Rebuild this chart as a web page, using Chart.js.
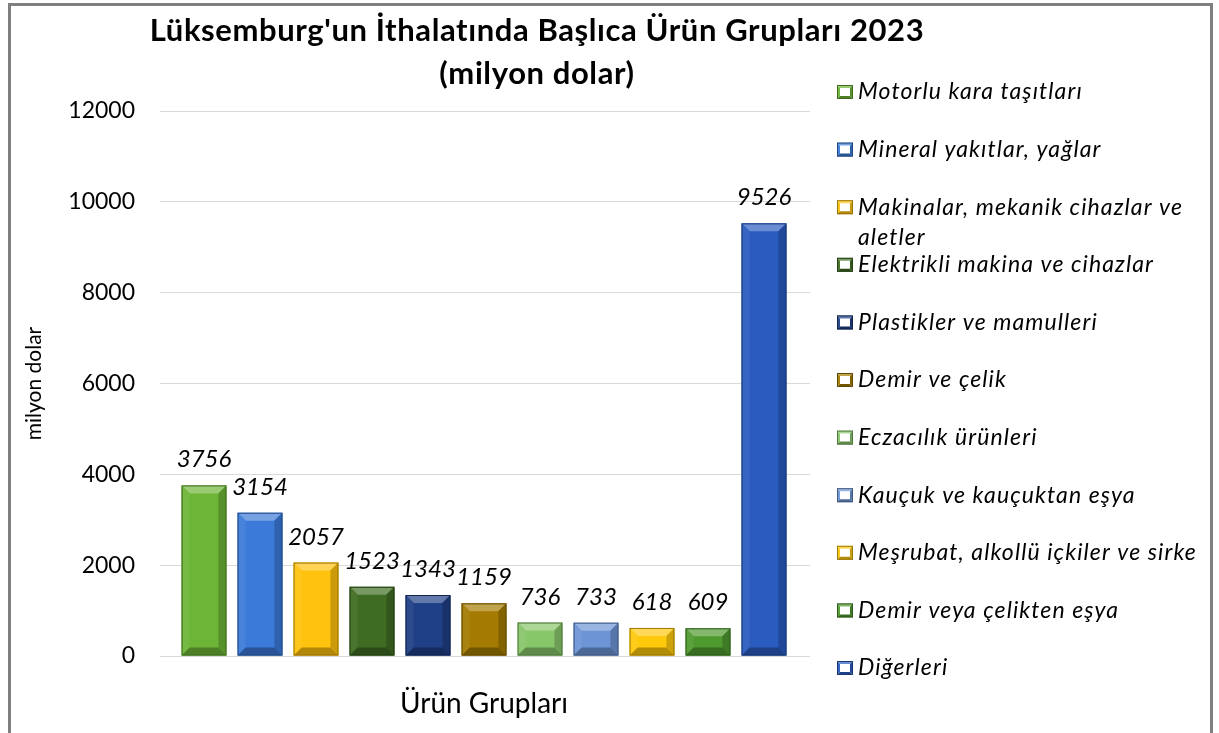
<!DOCTYPE html>
<html>
<head>
<meta charset="utf-8">
<script src="https://cdn.jsdelivr.net/npm/chart.js@4.4.1/dist/chart.umd.min.js"></script>
<style>
    body { margin: 0; background: #ffffff; }
    #frame {
        position: absolute; left: 8px; top: 3px; width: 1205px; height: 760px;
        border: 3px solid #7f7f7f; box-sizing: border-box;
    }
    #barChart { position: absolute; left: 0; top: 0; width: 1219px; height: 733px; }
</style>
</head>
<body>
<div id="frame"></div>
<canvas id="barChart" width="1219" height="733"></canvas>
<script>
// chart data
const categories = [
    'Motorlu kara taşıtları',
    'Mineral yakıtlar, yağlar',
    'Makinalar, mekanik cihazlar ve aletler',
    'Elektrikli makina ve cihazlar',
    'Plastikler ve mamulleri',
    'Demir ve çelik',
    'Eczacılık ürünleri',
    'Kauçuk ve kauçuktan eşya',
    'Meşrubat, alkollü içkiler ve sirke',
    'Demir veya çelikten eşya',
    'Diğerleri'
];
const values = [3756, 3154, 2057, 1523, 1343, 1159, 736, 733, 618, 609, 9526];
const yTicks = [0, 2000, 4000, 6000, 8000, 10000, 12000];

const barColors = [
    '#6cb536', '#3b7ad9', '#ffc20e', '#3e6c22', '#1f3f86', '#a47b00',
    '#88c66a', '#6d95d6', '#ffc90c', '#4f9a2f', '#2a5bbf'
];

const titleLines = ["Lüksemburg'un İthalatında Başlıca Ürün Grupları 2023", '(milyon dolar)'];
const FONT = 'Lato, "Open Sans", sans-serif';

// mix a hex colour with white (amt > 0) or black (amt < 0)
function shade(hex, amt) {
    const n = parseInt(hex.slice(1), 16);
    let r = (n >> 16) & 255, g = (n >> 8) & 255, b = n & 255;
    const t = amt > 0 ? 255 : 0, a = Math.abs(amt);
    r = Math.round(r + (t - r) * a);
    g = Math.round(g + (t - g) * a);
    b = Math.round(b + (t - b) * a);
    return `rgb(${r},${g},${b})`;
}

function poly(ctx, pts, color) {
    ctx.beginPath();
    ctx.moveTo(pts[0][0], pts[0][1]);
    for (let i = 1; i < pts.length; i++) ctx.lineTo(pts[i][0], pts[i][1]);
    ctx.closePath();
    ctx.fillStyle = color;
    ctx.fill();
}

// bevelled look like the office "angle" effect
function drawBevel(ctx, L, T, R, B, color, d) {
    d = Math.min(d, (B - T) / 2, (R - L) / 2);
    poly(ctx, [[L, T], [R, T], [R - d, T + d], [L + d, T + d]], shade(color, 0.3));
    poly(ctx, [[L, T], [L + d, T + d], [L + d, B - d], [L, B]], shade(color, 0.06));
    poly(ctx, [[R, T], [R - d, T + d], [R - d, B - d], [R, B]], shade(color, -0.2));
    poly(ctx, [[L, B], [L + d, B - d], [R - d, B - d], [R, B]], shade(color, -0.3));
    ctx.strokeStyle = shade(color, -0.4);
    ctx.lineWidth = 1;
    ctx.strokeRect(L + 0.5, T + 0.5, R - L - 1, B - T - 1);
}

const bevelPlugin = {
    id: 'bevel',
    afterDatasetsDraw(chart) {
        const ctx = chart.ctx;
        const meta = chart.getDatasetMeta(0);
        ctx.save();
        meta.data.forEach((bar, i) => {
            const p = bar.getProps(['x', 'y', 'base', 'width'], true);
            drawBevel(ctx, p.x - p.width / 2, p.y, p.x + p.width / 2, p.base, barColors[i], 8);
        });
        // value labels
        ctx.font = `italic 24px ${FONT}`;
        ctx.fillStyle = '#000000';
        ctx.textAlign = 'center';
        ctx.textBaseline = 'alphabetic';
        meta.data.forEach((bar, i) => {
            ctx.fillText(String(values[i]), bar.x, bar.y - 18);
        });
        ctx.restore();
    }
};

// title and side legend
const textPlugin = {
    id: 'sideText',
    afterDraw(chart) {
        const ctx = chart.ctx;
        ctx.save();
        ctx.fillStyle = '#000000';
        ctx.textAlign = 'center';
        ctx.textBaseline = 'middle';
        ctx.font = `bold 31px ${FONT}`;
        ctx.letterSpacing = '0.6px';
        ctx.fillText(titleLines[0], 537, 31);
        ctx.fillText(titleLines[1], 537, 74);

        ctx.textAlign = 'left';
        ctx.font = `italic 23px ${FONT}`;
        ctx.letterSpacing = '1.1px';
        categories.forEach((name, i) => {
            const cy = 92 + i * 57.6;
            drawBevel(ctx, 837, cy - 7, 853, cy + 7, barColors[i], 3);
            ctx.fillStyle = '#000000';
            if (i === 2) {
                ctx.fillText('Makinalar, mekanik cihazlar ve', 858, cy);
                ctx.fillText('aletler', 858, cy + 30);
            } else {
                ctx.fillText(name, 858, cy);
            }
        });
        ctx.restore();
    }
};

const ctx = document.getElementById('barChart').getContext('2d');
const barChart = new Chart(ctx, {
    type: 'bar',
    data: {
        labels: categories,
        datasets: [{
            label: 'milyon dolar',
            data: values,
            backgroundColor: barColors,
            borderWidth: 0,
            barPercentage: 0.8,
            categoryPercentage: 1.0
        }]
    },
    options: {
        responsive: false,
        animation: false,
        devicePixelRatio: 1,
        layout: {
            padding: { left: 10, top: 111, right: 409, bottom: 0 }
        },
        plugins: {
            legend: { display: false },
            title: { display: false },
            tooltip: { enabled: false }
        },
        scales: {
            x: {
                grid: { display: false, drawTicks: false },
                border: { display: false },
                ticks: { display: false },
                title: {
                    display: true,
                    text: 'Ürün Grupları',
                    color: '#000000',
                    font: { family: FONT, size: 28 },
                    padding: { top: 0, bottom: 12 }
                },
                afterFit: (scale) => { scale.height = 77; }
            },
            y: {
                min: 0,
                max: 12000,
                afterBuildTicks: (scale) => { scale.ticks = yTicks.map(v => ({ value: v })); },
                grid: { color: '#d9d9d9', lineWidth: 1, tickLength: 16 },
                border: { display: false },
                ticks: {
                    color: '#000000',
                    padding: 25,
                    font: { family: FONT, size: 23 },
                    callback: (value) => String(value)
                },
                title: {
                    display: true,
                    text: 'milyon dolar',
                    color: '#000000',
                    font: { family: FONT, size: 21 },
                    padding: { top: 12, bottom: 0 }
                },
                afterFit: (scale) => { scale.width = 166; }
            },
            y2: {
                position: 'right',
                min: 0,
                max: 12000,
                afterBuildTicks: (scale) => { scale.ticks = yTicks.map(v => ({ value: v })); },
                grid: { color: '#d9d9d9', lineWidth: 1, tickLength: 18, drawOnChartArea: false },
                border: { display: false },
                ticks: { display: false },
                afterFit: (scale) => { scale.width = 18; }
            }
        }
    },
    plugins: [bevelPlugin, textPlugin]
});
</script>
</body>
</html>
